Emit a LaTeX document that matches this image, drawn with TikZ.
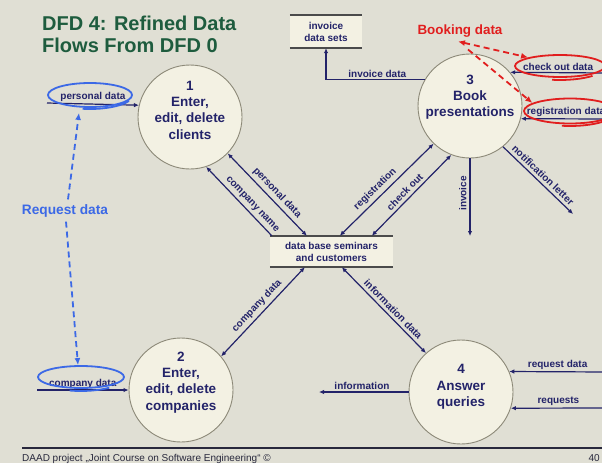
\documentclass[tikz,border=0pt]{standalone}
\usepackage{fontspec}
\setmainfont{Liberation Sans}
\usetikzlibrary{arrows.meta,calc,shapes.geometric}

\definecolor{bg}{RGB}{224,223,212}
\definecolor{circfill}{RGB}{243,241,227}
\definecolor{circline}{RGB}{140,137,120}
\definecolor{navy}{RGB}{35,35,105}
\definecolor{storeline}{RGB}{75,75,75}
\definecolor{titlegreen}{RGB}{30,92,62}
\definecolor{notered}{RGB}{225,30,30}
\definecolor{noteblue}{RGB}{60,105,230}
\definecolor{footgray}{RGB}{40,40,60}

\tikzset{
  proc/.style={circle, draw=circline, fill=circfill, line width=0.9pt,
    minimum size=104pt, inner sep=0pt},
  proctxt/.style={font=\bfseries\fontsize{13.5}{16.3}\selectfont, text=navy,
    align=center, inner sep=0pt},
  store/.style={fill=circfill, inner sep=0pt, text=navy, align=center,
    font=\bfseries\fontsize{10}{12}\selectfont},
  storeedge/.style={draw=storeline, line width=1.5pt},
  flow/.style={draw=navy, line width=1.2pt},
  lbl/.style={font=\bfseries\fontsize{10}{11}\selectfont, text=navy, inner sep=1.5pt},
  slbl/.style={lbl, sloped, above, inner sep=3pt},
  bluering/.style={draw=noteblue, line width=1.8pt},
  redring/.style={draw=notered, line width=1.8pt},
  bluedash/.style={draw=noteblue, line width=1.8pt, dash pattern=on 6pt off 4pt},
  reddash/.style={draw=notered, line width=1.8pt, dash pattern=on 6pt off 4pt},
  titletxt/.style={font=\bfseries\fontsize{20}{22}\selectfont, text=titlegreen, inner sep=0pt},
  foot/.style={font=\fontsize{10}{11}\selectfont, text=footgray, inner sep=0pt},
  >={Latex[length=5pt,width=4.5pt]}
}

\begin{document}
\begin{tikzpicture}[x=1pt, y=-1pt]
  % slide background
  \fill[bg] (0,0) rectangle (602,463);
  \useasboundingbox (0,0) rectangle (602,463);
  \clip (0,0) rectangle (602,463);

  % title
  \node[titletxt, anchor=base west] (title1) at (42,30.5) {DFD 4: Refined Data};
  \node[titletxt, anchor=base west] (title2) at (42,52.5) {Flows From DFD 0};

  % processes
  \node[proc] (c1) at (190,117) {};
  \node[proctxt] (t1) at (190,110) {1\\Enter,\\edit, delete\\clients};
  \node[proc] (c2) at (181,390) {};
  \node[proctxt] (t2) at (181,382.5) {2\\Enter,\\edit, delete\\companies};
  \node[proc] (c3) at (470,106) {};
  \node[proctxt] (t3) at (470,97) {3\\Book\\presentations};
  \node[proc] (c4) at (461,392) {};
  \node[proctxt] (t4) at (461,387) {4\\Answer\\queries};

  % data stores
  \node[store, minimum width=123pt, minimum height=31pt] (ds) at (331.5,251.5)
    {data base seminars\\and customers};
  \draw[storeedge] (ds.north west) -- (ds.north east);
  \draw[storeedge] (ds.south west) -- (ds.south east);
  \node[store, minimum width=72pt, minimum height=33pt] (inv) at (326,31.5)
    {invoice\\data sets};
  \draw[storeedge] (inv.north west) -- (inv.north east);
  \draw[storeedge] (inv.south west) -- (inv.south east);

  % free ends of flows
  \coordinate (invend) at (470,236);
  \coordinate (notend) at (573,214);
  \coordinate (codin) at (606,73);
  \coordinate (regin) at (606,119);
  \coordinate (pdin) at (47,103);
  \coordinate (cdin) at (37,390);
  \coordinate (infout) at (319,392);
  \coordinate (rqdin) at (606,372);
  \coordinate (rqsin) at (606,408);

  % flows between store and processes
  \draw[flow,<->] ($(ds.north west)+(37,0)$) --
    node[slbl, pos=.45] {personal data} (c1.-44);
  \draw[flow,->] ($(ds.north west)+(2,0)$) --
    node[slbl, pos=.38] {company name} (c1.-72);
  \draw[flow,<->] ($(ds.north west)+(70,0)$) --
    node[slbl, pos=.44] {registration} (c3.-134);
  \draw[flow,<->] ($(ds.north west)+(102,0)$) --
    node[slbl, pos=.48] {check out} (c3.-111);
  \draw[flow,<->] ($(ds.south west)+(35,0)$) --
    node[slbl, pos=.5] {company data} (c2.40);
  \draw[flow,<->] ($(ds.south west)+(72,0)$) --
    node[slbl, pos=.55] {information data} (c4.132);

  % other flows
  \draw[flow,->] (c3.south) --
    node[lbl, rotate=90, anchor=south, inner sep=3pt, pos=.45] {invoice} (invend);
  \draw[flow,->] (c3.-51) --
    node[slbl, pos=.5] {notification letter} (notend);
  \draw[flow,->] (c3.150) -|
    node[lbl, above, pos=.24] {invoice data} (inv.south);
  \draw[flow,->] (codin) --
    node[lbl, above, pos=.5, inner sep=1pt] {check out data} (c3.40);
  \draw[flow,->] (regin) --
    node[lbl, above, pos=.47, inner sep=1.5pt] {registration data} (c3.-14);
  \draw[flow,->] (pdin) --
    node[lbl, above, pos=.5, inner sep=1.5pt] {personal data} (c1.167);
  \draw[flow,->] (cdin) --
    node[lbl, above, pos=.5, inner sep=1pt] {company data} (c2.west);
  \draw[flow,->] (c4.west) --
    node[lbl, above, pos=.52] {information} (infout);
  \draw[flow,->] (rqdin) --
    node[lbl, above, pos=.5] {request data} (c4.23);
  \draw[flow,->] (rqsin) --
    node[lbl, above, pos=.5] {requests} (c4.-18);

  % hand-drawn rings around the external flows, each with its overshooting stroke
  \node[ellipse, bluering, minimum width=84pt, minimum height=24pt, inner sep=0pt] (epd) at (90,95) {};
  \draw[bluering] ($(epd.center)+({43*cos(100)},{14*sin(100)})$)
    arc[start angle=100, end angle=25, x radius=43, y radius=14];
  \node[ellipse, bluering, minimum width=86pt, minimum height=22pt, inner sep=0pt] (ecd) at (81,377) {};
  \draw[bluering] ($(ecd.center)+({44*cos(105)},{14*sin(105)})$)
    arc[start angle=105, end angle=50, x radius=44, y radius=14];
  \node[ellipse, redring, minimum width=90pt, minimum height=22pt, inner sep=0pt] (ecod) at (560,66) {};
  \draw[redring] ($(ecod.center)+({46*cos(100)},{14*sin(100)})$)
    arc[start angle=100, end angle=45, x radius=46, y radius=14];
  \node[ellipse, redring, minimum width=92pt, minimum height=25pt, inner sep=0pt] (ereg) at (570,111) {};
  \draw[redring] ($(ereg.center)+({47*cos(100)},{15*sin(100)})$)
    arc[start angle=100, end angle=45, x radius=47, y radius=15];

  % annotations
  \node[font=\bfseries\fontsize{13.4}{15}\selectfont, text=notered, inner sep=1pt] (bk) at (460,31) {Booking data};
  \draw[reddash,{Latex[length=7pt,width=6pt]}-{Latex[length=7pt,width=6pt]}]
    ($(bk.south)+(-2,3)$) -- (ecod.165);
  \draw[reddash,-{Latex[length=7pt,width=6pt]}]
    ($(bk.south)+(8,11)$) -- (ereg.168);

  \node[font=\bfseries\fontsize{13.7}{15}\selectfont, text=noteblue, inner sep=1pt] (rq) at (65,211) {Request data};
  \draw[bluedash,-{Latex[length=7pt,width=6pt]}]
    ($(rq.north)+(3,-4)$) -- ($(epd.south)+(-11,5)$);
  \draw[bluedash,-{Latex[length=7pt,width=6pt]}]
    ($(rq.south)+(1,3)$) -- ($(ecd.north)+(-3,0)$);

  % footer
  \draw[draw=footgray, line width=1.2pt] (22,448) -- (606,448);
  \node[foot, anchor=base west] (ft) at (22,461)
    {DAAD project „Joint Course on Software Engineering“ ©};
  \node[foot, anchor=base east] (pg) at (600,461) {40};
\end{tikzpicture}
\end{document}
